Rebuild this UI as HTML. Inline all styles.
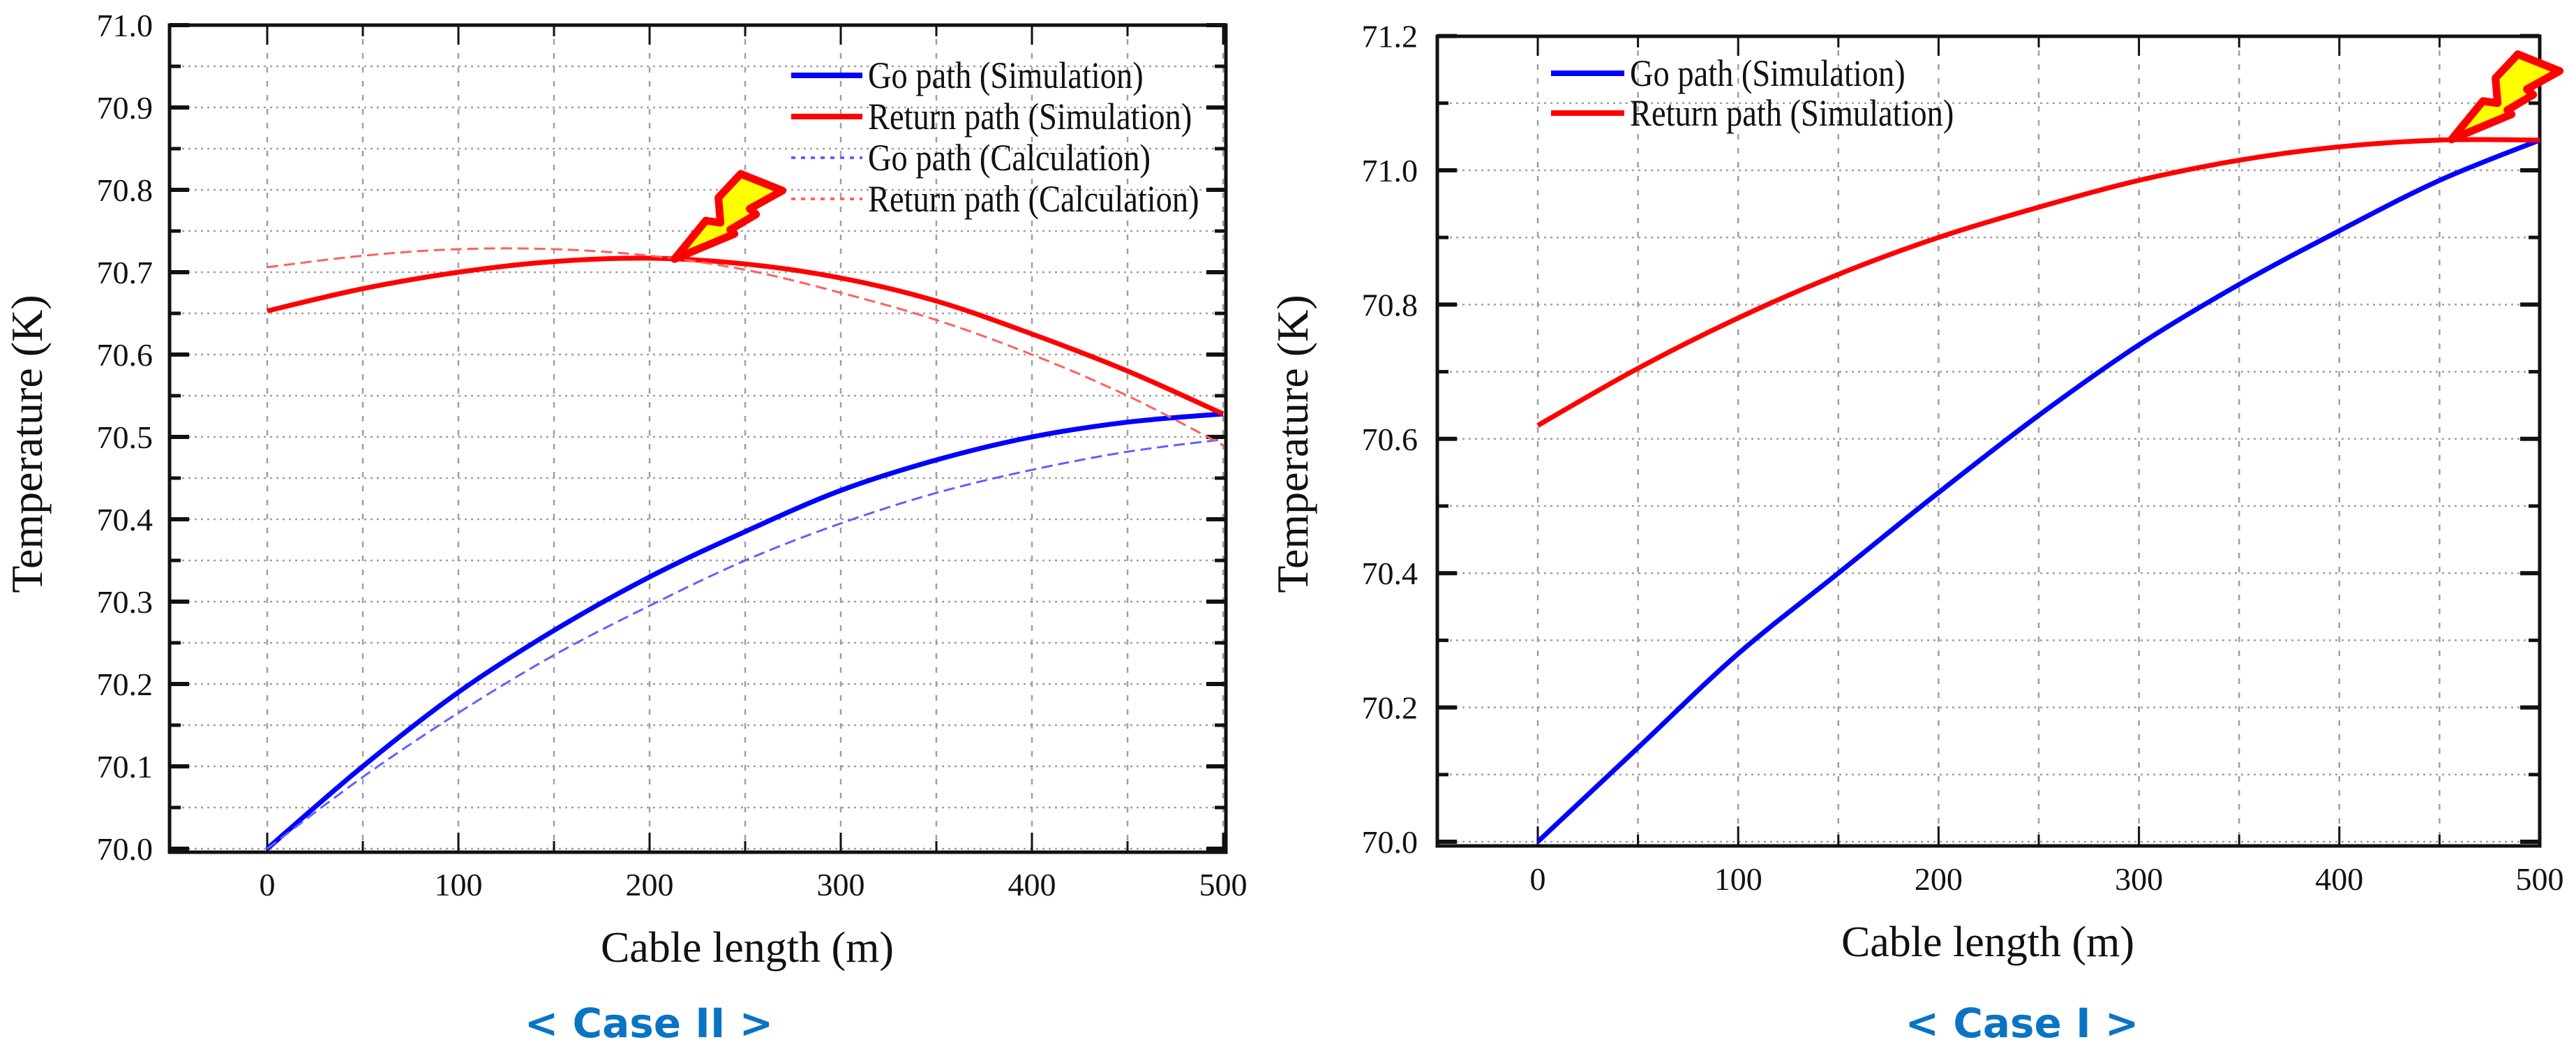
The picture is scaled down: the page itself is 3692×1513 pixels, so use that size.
<!DOCTYPE html>
<html><head><meta charset="utf-8"><style>
body{margin:0;background:#fff}
svg{display:block}
text{font-family:"Liberation Serif",serif;fill:#111}
.case{font-family:"DejaVu Sans","Liberation Sans",sans-serif;font-weight:bold;fill:#0a74c4}
</style></head><body>
<svg id="root" width="3692" height="1513" viewBox="0 0 3692 1513"></svg>
<script>
const xCats=[0,50,100,150,200,250,300,350,400,450,500];
const xTicks=[0,100,200,300,400,500];
// Case II
const c2GoSim=[70.0,70.10,70.19,70.265,70.33,70.385,70.435,70.472,70.50,70.518,70.528];
const c2RetSim=[70.653,70.68,70.70,70.713,70.717,70.71,70.693,70.665,70.625,70.58,70.528];
const c2GoCalc=[70.0,70.087,70.165,70.235,70.295,70.35,70.395,70.432,70.46,70.482,70.497];
const c2RetCalc=[70.706,70.72,70.728,70.728,70.72,70.703,70.675,70.642,70.60,70.55,70.49];
const c2YTicks=["70.0","70.1","70.2","70.3","70.4","70.5","70.6","70.7","70.8","70.9","71.0"];
const c2Bolt=[213,70.716];
// Case I
const c1GoSim=[70.0,70.14,70.28,70.40,70.52,70.635,70.74,70.83,70.91,70.985,71.045];
const c1RetSim=[70.62,70.705,70.78,70.845,70.90,70.945,70.985,71.015,71.035,71.045,71.045];
const c1YTicks=["70.0","70.2","70.4","70.6","70.8","71.0","71.2"];
const c1Bolt=[456,71.046];

const NS="http://www.w3.org/2000/svg";
const root=document.getElementById('root');
function mk(tag,attrs,parent){const e=document.createElementNS(NS,tag);for(const k in attrs)e.setAttribute(k,attrs[k]);(parent||root).appendChild(e);return e;}
function smooth(P){let d='M'+P[0][0].toFixed(1)+' '+P[0][1].toFixed(1);
  for(let i=0;i<P.length-1;i++){const p0=P[Math.max(0,i-1)],p1=P[i],p2=P[i+1],p3=P[Math.min(P.length-1,i+2)];
    const c1=[p1[0]+(p2[0]-p0[0])/6,p1[1]+(p2[1]-p0[1])/6],c2=[p2[0]-(p3[0]-p1[0])/6,p2[1]-(p3[1]-p1[1])/6];
    d+=` C${c1[0].toFixed(1)} ${c1[1].toFixed(1)} ${c2[0].toFixed(1)} ${c2[1].toFixed(1)} ${p2[0].toFixed(1)} ${p2[1].toFixed(1)}`;}
  return d;}

function chart(cfg){
  const g=mk('g',{});
  
  
  const X=v=>cfg.x0+(v-0)*cfg.xs;
  const Y=v=>cfg.y0-(v-cfg.ymin)*cfg.ys;
  const L=cfg.L,R=cfg.R,T=cfg.T,B=cfg.B;
  for(const v of xCats){const gl=mk('line',{x1:X(v),x2:X(v),y1:T,y2:B,stroke:'#a0a0a0','stroke-width':2.5,'stroke-dasharray':'8 12'},g);
    }
  for(let v=cfg.ymin;v<=cfg.ymax+1e-9;v+=cfg.gridStep){const gl=mk('line',{x1:L,x2:R,y1:Y(v),y2:Y(v),stroke:'#a0a0a0','stroke-width':2.5,'stroke-dasharray':'3 6'},g);
    }
  for(let v=0;v<=500;v+=50){const maj=v%100===0,len=maj?28:16;
    mk('line',{x1:X(v),x2:X(v),y1:B,y2:B-len,stroke:'#111','stroke-width':3},g);
    mk('line',{x1:X(v),x2:X(v),y1:T,y2:T+len,stroke:'#111','stroke-width':3},g);}
  for(let v=cfg.ymin;v<=cfg.ymax+1e-9;v+=cfg.minorStep){const k=Math.round((v-cfg.ymin)/cfg.minorStep);const maj=k%2===0,len=maj?28:16;
    mk('line',{x1:L,x2:L+len,y1:Y(v),y2:Y(v),stroke:'#111','stroke-width':maj?6:5},g);
    mk('line',{x1:R,x2:R-len,y1:Y(v),y2:Y(v),stroke:'#111','stroke-width':maj?6:5},g);}
  const fr=mk('rect',{x:L,y:T,width:R-L,height:B-T,fill:'none',stroke:'#111','stroke-width':5},g);
  
  for(const t of xTicks){const tx=mk('text',{x:X(t),y:cfg.xLabY,'font-size':46,'text-anchor':'middle'},g);tx.textContent=t;
    }
  cfg.yTicks.forEach((t)=>{const ty=mk('text',{x:cfg.yLabX,y:Y(parseFloat(t))+16,'font-size':46,'text-anchor':'end'},g);ty.textContent=t;
    });
  const xt=mk('text',{x:cfg.xtX,y:cfg.xtY,'font-size':62,'text-anchor':'middle'},g);xt.textContent='Cable length (m)';
  
  const yt=mk('text',{x:0,y:0,'font-size':64,'text-anchor':'middle',transform:`translate(${cfg.ytX},636) rotate(-90)`},g);yt.textContent='Temperature (K)';
  
  const ct=mk('text',{x:cfg.caseX,y:1486,'font-size':58,'text-anchor':'middle',class:'case'},g);ct.textContent=cfg.caseText;
  
  for(const s of cfg.series){
    const d=smooth(s.vals.map((v,i)=>[X(xCats[i]),Y(v)]));
    const p=mk('path',{d:d,fill:'none',stroke:s.color,'stroke-width':s.w,'stroke-dasharray':s.dash||'none','stroke-linejoin':'round'},g);
    
    
  }
  const bx=X(cfg.bolt[0]),by=Y(cfg.bolt[1]);
  const pts=[[0,0],[45,-55],[66,-52],[63,-88],[95,-122],[155,-98],[108,-72],[117,-64],[80,-42],[86,-36]];
  const bolt=mk('polygon',{points:pts.map(p=>(bx+p[0])+','+(by+p[1])).join(' '),fill:'#ffff00',stroke:'#ff0000','stroke-width':11,'stroke-linejoin':'round'},g);
  
  
  const lg=mk('g',{},g);
  
  
  cfg.series.forEach((s,i)=>{const y=cfg.legY+i*cfg.legDy;
    mk('line',{x1:cfg.legX,x2:cfg.legX+cfg.legLen,y1:y,y2:y,stroke:s.color,'stroke-width':s.lw,'stroke-dasharray':s.ldash||'none'},lg);
    const t=mk('text',{x:0,y:0,'font-size':54,transform:`translate(${cfg.legX+cfg.legLen+8},${y+18}) scale(0.86,1)`},lg);t.textContent=s.label;
    });
}
chart({name:'case-ii-chart',L:243,R:1757,T:36,B:1221,x0:383,xs:2.74,y0:1216,ymin:70.0,ymax:71.0,ys:1180,gridStep:0.05,minorStep:0.05,
  yTicks:c2YTicks,xLabY:1283,yLabX:219,xtX:1071,xtY:1378,ytX:60,caseX:930,caseText:'< Case II >',bolt:c2Bolt,
  legX:1134,legLen:102,legY:108,legDy:59,
  series:[{name:'go-path-simulation',vals:c2GoSim,color:'#0000ff',w:7,lw:8,label:'Go path (Simulation)'},
          {name:'return-path-simulation',vals:c2RetSim,color:'#ff0000',w:7,lw:8,label:'Return path (Simulation)'},
          {name:'go-path-calculation',vals:c2GoCalc,color:'#6060ff',w:3,dash:'16 8',lw:4,ldash:'6 8',label:'Go path (Calculation)'},
          {name:'return-path-calculation',vals:c2RetCalc,color:'#ff6060',w:3,dash:'16 8',lw:4,ldash:'6 8',label:'Return path (Calculation)'}]});
chart({name:'case-i-chart',L:2060,R:3640,T:52,B:1212,x0:2204,xs:2.872,y0:1206,ymin:70.0,ymax:71.2,ys:962,gridStep:0.1,minorStep:0.1,
  yTicks:c1YTicks,xLabY:1275,yLabX:2032,xtX:2849,xtY:1370,ytX:1874,caseX:2898,caseText:'< Case I >',bolt:c1Bolt,
  legX:2223,legLen:105,legY:105,legDy:57,
  series:[{name:'go-path-simulation',vals:c1GoSim,color:'#0000ff',w:7,lw:8,label:'Go path (Simulation)'},
          {name:'return-path-simulation',vals:c1RetSim,color:'#ff0000',w:7,lw:8,label:'Return path (Simulation)'}]});
</script>
</body></html>
